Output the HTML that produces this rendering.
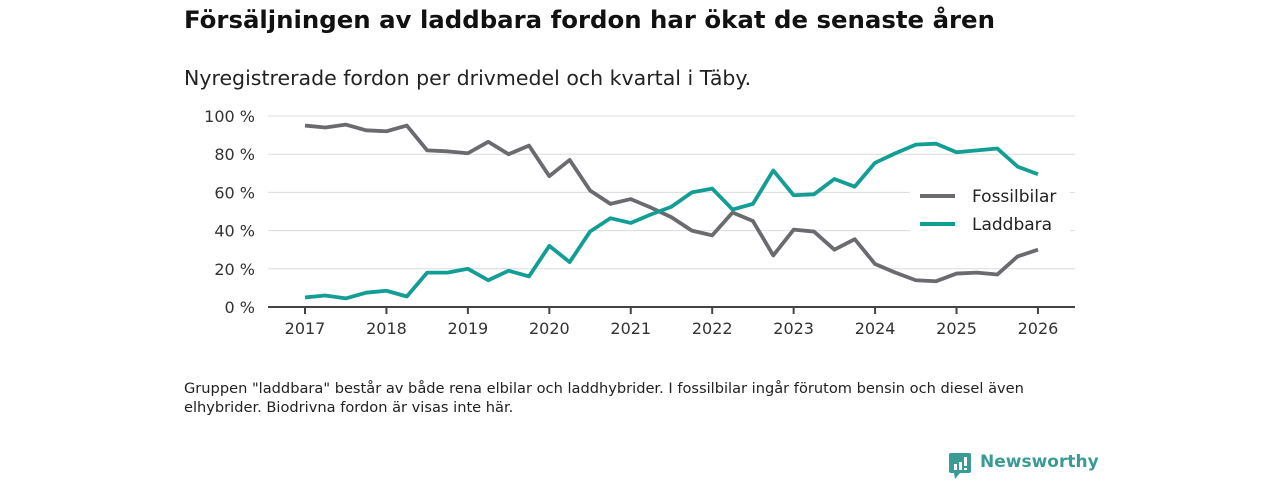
<!DOCTYPE html>
<html><head><meta charset="utf-8"><style>
body{margin:0;width:1280px;height:480px;background:#fff;font-family:"DejaVu Sans","Liberation Sans",sans-serif;overflow:hidden;position:relative;color:#111}
.t{position:absolute;white-space:nowrap}
</style></head><body>
<div class="t" style="left:184px;top:5px;font-size:24.4px;font-weight:bold;">Försäljningen av laddbara fordon har ökat de senaste åren</div>
<div class="t" style="left:184px;top:66px;font-size:20.5px;color:#222">Nyregistrerade fordon per drivmedel och kvartal i Täby.</div>
<svg id="chart" width="1280" height="480" style="position:absolute;left:0;top:0" font-family="DejaVu Sans, Liberation Sans, sans-serif"></svg>
<div class="t" style="left:184px;top:379px;font-size:14.6px;line-height:19px;color:#222">Gruppen "laddbara" består av både rena elbilar och laddhybrider. I fossilbilar ingår förutom bensin och diesel även<br>elhybrider. Biodrivna fordon är visas inte här.</div>
<div style="position:absolute;left:948px;top:451px;">
<svg width="24" height="30" style="position:absolute;left:0;top:0"><rect x="1" y="2" width="22" height="20" rx="2" fill="#3a9b94"/><polygon points="6,22 12,22 7,28" fill="#3a9b94"/><rect x="6" y="13" width="3" height="6" fill="#fff"/><rect x="11" y="11" width="3" height="8" fill="#fff"/><rect x="16" y="6" width="3" height="9" fill="#fff"/><rect x="16" y="17" width="3" height="2" fill="#fff"/></svg>
<div class="t" style="left:32px;top:1px;font-size:17px;font-weight:bold;color:#3a9b94;">Newsworthy</div></div>
<script>
const years=[2017,2018,2019,2020,2021,2022,2023,2024,2025,2026];
const yTicks=[0,20,40,60,80,100];
const fossil=[95,94,95.5,92.5,92,95,82,81.5,80.5,86.5,80,84.5,68.5,77,61,54,56.5,52,47,40,37.5,49.5,45,27,40.5,39.5,30,35.5,22.5,18,14,13.5,17.5,18,17,26.5,30];
const laddbara=[5,6,4.5,7.5,8.5,5.5,18,18,20,14,19,16,32,23.5,39.5,46.5,44,48.5,52.5,60,62,51,54,71.5,58.5,59,67,63,75.5,80.5,85,85.5,81,82,83,73.5,69.5];
const svg=document.getElementById('chart');const NS='http://www.w3.org/2000/svg';
const x=t=>305+(t-2017)*81.44;const y=v=>307-v*1.91;
function mk(tag,a){const e=document.createElementNS(NS,tag);for(const k in a)e.setAttribute(k,a[k]);svg.appendChild(e);return e;}
yTicks.forEach(v=>{
 if(v>0){const g=mk('line',{x1:268,x2:1075,y1:y(v),y2:y(v),stroke:'#dcdcdc','stroke-width':1});
 
 }
 const t=mk('text',{x:255,y:y(v)+6,'text-anchor':'end','font-size':16,fill:'#333'});t.textContent=v+' %';
 
 
});
const ax=mk('line',{x1:268,x2:1075,y1:307,y2:307,stroke:'#444','stroke-width':2});


years.forEach(yr=>{
 mk('line',{x1:x(yr),x2:x(yr),y1:307,y2:314,stroke:'#444','stroke-width':2});
 const t=mk('text',{x:x(yr),y:334,'text-anchor':'middle','font-size':16,fill:'#333'});t.textContent=yr;
 
 
});
function line(d,c,n){const p=mk('polyline',{points:d.map((v,i)=>x(2017+i/4)+','+y(v)).join(' '),fill:'none',stroke:c,'stroke-width':3.8,'stroke-linejoin':'round'});
 
 }
line(fossil,'#6b6a6f','fossil-line');
line(laddbara,'#129e95','laddbara-line');
mk('rect',{x:910,y:180,width:160,height:60,fill:'#fff'});
[['Fossilbilar','#6b6a6f',196],['Laddbara','#129e95',224]].forEach(([n,c,yy])=>{
 mk('line',{x1:920,x2:955,y1:yy,y2:yy,stroke:c,'stroke-width':4});
 const t=mk('text',{x:972,y:yy+6,'font-size':17,fill:'#222'});t.textContent=n;
 
 
});
</script>
</body></html>
